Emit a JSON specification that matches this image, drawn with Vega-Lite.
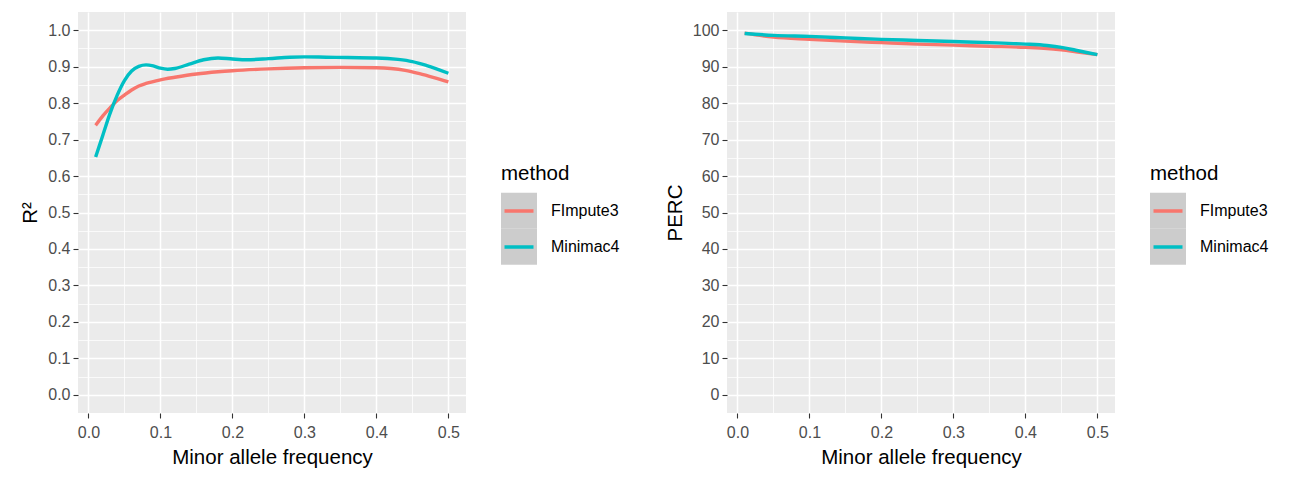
{
  "$schema": "https://vega.github.io/schema/vega-lite/v6.json",
  "padding": {"left": 20, "top": 12, "right": 5, "bottom": 5},
  "background": "white",
  "datasets": {
    "r2": [
      {"method": "FImpute3", "maf": 0.01, "value": 0.739},
      {"method": "FImpute3", "maf": 0.02, "value": 0.765},
      {"method": "FImpute3", "maf": 0.03, "value": 0.787},
      {"method": "FImpute3", "maf": 0.04, "value": 0.807},
      {"method": "FImpute3", "maf": 0.05, "value": 0.822},
      {"method": "FImpute3", "maf": 0.06, "value": 0.836},
      {"method": "FImpute3", "maf": 0.07, "value": 0.847},
      {"method": "FImpute3", "maf": 0.08, "value": 0.854},
      {"method": "FImpute3", "maf": 0.10, "value": 0.864},
      {"method": "FImpute3", "maf": 0.12, "value": 0.871},
      {"method": "FImpute3", "maf": 0.15, "value": 0.880},
      {"method": "FImpute3", "maf": 0.18, "value": 0.886},
      {"method": "FImpute3", "maf": 0.20, "value": 0.889},
      {"method": "FImpute3", "maf": 0.25, "value": 0.894},
      {"method": "FImpute3", "maf": 0.30, "value": 0.897},
      {"method": "FImpute3", "maf": 0.35, "value": 0.898},
      {"method": "FImpute3", "maf": 0.40, "value": 0.897},
      {"method": "FImpute3", "maf": 0.42, "value": 0.895},
      {"method": "FImpute3", "maf": 0.44, "value": 0.890},
      {"method": "FImpute3", "maf": 0.46, "value": 0.881},
      {"method": "FImpute3", "maf": 0.48, "value": 0.870},
      {"method": "FImpute3", "maf": 0.50, "value": 0.858},
      {"method": "Minimac4", "maf": 0.01, "value": 0.652},
      {"method": "Minimac4", "maf": 0.02, "value": 0.712},
      {"method": "Minimac4", "maf": 0.03, "value": 0.772},
      {"method": "Minimac4", "maf": 0.04, "value": 0.822},
      {"method": "Minimac4", "maf": 0.05, "value": 0.862},
      {"method": "Minimac4", "maf": 0.06, "value": 0.888},
      {"method": "Minimac4", "maf": 0.07, "value": 0.901},
      {"method": "Minimac4", "maf": 0.08, "value": 0.905},
      {"method": "Minimac4", "maf": 0.09, "value": 0.902},
      {"method": "Minimac4", "maf": 0.10, "value": 0.896},
      {"method": "Minimac4", "maf": 0.11, "value": 0.893},
      {"method": "Minimac4", "maf": 0.12, "value": 0.895},
      {"method": "Minimac4", "maf": 0.14, "value": 0.907},
      {"method": "Minimac4", "maf": 0.16, "value": 0.919},
      {"method": "Minimac4", "maf": 0.18, "value": 0.924},
      {"method": "Minimac4", "maf": 0.20, "value": 0.921},
      {"method": "Minimac4", "maf": 0.22, "value": 0.919},
      {"method": "Minimac4", "maf": 0.25, "value": 0.922},
      {"method": "Minimac4", "maf": 0.28, "value": 0.926},
      {"method": "Minimac4", "maf": 0.30, "value": 0.927},
      {"method": "Minimac4", "maf": 0.33, "value": 0.926},
      {"method": "Minimac4", "maf": 0.36, "value": 0.925},
      {"method": "Minimac4", "maf": 0.40, "value": 0.924},
      {"method": "Minimac4", "maf": 0.43, "value": 0.920},
      {"method": "Minimac4", "maf": 0.45, "value": 0.914},
      {"method": "Minimac4", "maf": 0.47, "value": 0.903},
      {"method": "Minimac4", "maf": 0.50, "value": 0.882}
    ],
    "perc": [
      {"method": "FImpute3", "maf": 0.01, "value": 99.2},
      {"method": "FImpute3", "maf": 0.05, "value": 98.1},
      {"method": "FImpute3", "maf": 0.10, "value": 97.5},
      {"method": "FImpute3", "maf": 0.15, "value": 97.0},
      {"method": "FImpute3", "maf": 0.20, "value": 96.6},
      {"method": "FImpute3", "maf": 0.25, "value": 96.2},
      {"method": "FImpute3", "maf": 0.30, "value": 95.9},
      {"method": "FImpute3", "maf": 0.35, "value": 95.6},
      {"method": "FImpute3", "maf": 0.40, "value": 95.3},
      {"method": "FImpute3", "maf": 0.43, "value": 95.0},
      {"method": "FImpute3", "maf": 0.45, "value": 94.6},
      {"method": "FImpute3", "maf": 0.47, "value": 94.1},
      {"method": "FImpute3", "maf": 0.50, "value": 93.3},
      {"method": "Minimac4", "maf": 0.01, "value": 99.1},
      {"method": "Minimac4", "maf": 0.05, "value": 98.6},
      {"method": "Minimac4", "maf": 0.10, "value": 98.3},
      {"method": "Minimac4", "maf": 0.15, "value": 97.9},
      {"method": "Minimac4", "maf": 0.20, "value": 97.5},
      {"method": "Minimac4", "maf": 0.25, "value": 97.2},
      {"method": "Minimac4", "maf": 0.30, "value": 96.9},
      {"method": "Minimac4", "maf": 0.35, "value": 96.6},
      {"method": "Minimac4", "maf": 0.40, "value": 96.2},
      {"method": "Minimac4", "maf": 0.43, "value": 95.8},
      {"method": "Minimac4", "maf": 0.45, "value": 95.3},
      {"method": "Minimac4", "maf": 0.47, "value": 94.5},
      {"method": "Minimac4", "maf": 0.50, "value": 93.3}
    ]
  },
  "config": {
    "font": "Liberation Sans",
    "view": {"fill": "#EBEBEB", "stroke": null},
    "axis": {
      "domain": false,
      "grid": true,
      "gridColor": "white",
      "tickColor": "#333333",
      "tickSize": 5,
      "tickWidth": 1.1,
      "labelColor": "#4D4D4D",
      "labelFontSize": 16,
      "labelFont": "Liberation Sans",
      "titleFont": "Liberation Sans",
      "titleFontSize": 20.5,
      "titleFontWeight": "normal",
      "titleColor": "black",
      "labelOverlap": false,
      "labelFlush": false
    },
    "axisX": {"labelPadding": 6, "titlePadding": 7},
    "axisY": {"labelPadding": 3, "titlePadding": 7},
    "legend": {"padding": 0, "rowPadding": 0, "labelFontSize": 16, "labelColor": "black", "titleFontSize": 20.5, "titleFontWeight": "normal", "titleColor": "black"}
  },
  "bounds": "flush",
  "spacing": 261,
  "resolve": {"scale": {"color": "independent", "fill": "independent"}},
  "hconcat": [
    {
      "width": 388,
      "height": 401,
      "data": {"name": "r2"},
      "encoding": {
        "x": {
          "field": "maf", "type": "quantitative",
          "scale": {"domain": [-0.0145, 0.5245], "nice": false, "zero": false},
          "axis": {
            "title": "Minor allele frequency",
            "values": [0, 0.05, 0.1, 0.15, 0.2, 0.25, 0.3, 0.35, 0.4, 0.45, 0.5],
            "labelExpr": "abs(datum.value*10 - round(datum.value*10)) < 0.001 ? format(datum.value, '.1f') : ''",
            "gridWidth": {"condition": {"test": "abs(datum.value*10 - round(datum.value*10)) < 0.001", "value": 1.5}, "value": 0.75},
            "tickOpacity": {"condition": {"test": "abs(datum.value*10 - round(datum.value*10)) < 0.001", "value": 1}, "value": 0}
          }
        },
        "y": {
          "field": "value", "type": "quantitative",
          "scale": {"domain": [-0.05, 1.05], "nice": false, "zero": false},
          "axis": {
            "title": "R²",
            "values": [0, 0.05, 0.1, 0.15, 0.2, 0.25, 0.3, 0.35, 0.4, 0.45, 0.5, 0.55, 0.6, 0.65, 0.7, 0.75, 0.8, 0.85, 0.9, 0.95, 1.0],
            "labelExpr": "abs(datum.value*10 - round(datum.value*10)) < 0.001 ? format(datum.value, '.1f') : ''",
            "gridWidth": {"condition": {"test": "abs(datum.value*10 - round(datum.value*10)) < 0.001", "value": 1.5}, "value": 0.75},
            "tickOpacity": {"condition": {"test": "abs(datum.value*10 - round(datum.value*10)) < 0.001", "value": 1}, "value": 0}
          }
        }
      },
      "layer": [
        {
          "mark": {"type": "square", "filled": true, "opacity": 0},
          "encoding": {
            "fill": {
              "field": "method", "type": "nominal",
              "scale": {"range": ["#CCCCCC", "#CCCCCC"]},
              "legend": {
                "orient": "none", "legendX": 423, "legendY": 180.7, "zindex": 0,
                "title": null, "symbolType": "square", "symbolSize": 1296, "symbolStrokeWidth": 0,
                "symbolOpacity": 1, "labelOpacity": 0, "labelExpr": "''",
                "encode": {"symbols": {"update": {"opacity": {"value": 1}}}}
              }
            }
          }
        },
        {
          "mark": {"type": "line", "strokeWidth": 3.4, "interpolate": "monotone"},
          "encoding": {
            "color": {
              "field": "method", "type": "nominal",
              "scale": {"domain": ["FImpute3", "Minimac4"], "range": ["#F8766D", "#00BFC4"]},
              "legend": {
                "orient": "none", "legendX": 423, "legendY": 151.5, "zindex": 1,
                "title": "method", "titlePadding": 9,
                "symbolType": "stroke", "symbolSize": 841, "symbolStrokeWidth": 3.7, "symbolOffset": 1.5,
                "clipHeight": 36, "labelOffset": 15.5
              }
            }
          }
        }
      ]
    },
    {
      "width": 388,
      "height": 401,
      "data": {"name": "perc"},
      "encoding": {
        "x": {
          "field": "maf", "type": "quantitative",
          "scale": {"domain": [-0.0145, 0.5245], "nice": false, "zero": false},
          "axis": {
            "title": "Minor allele frequency",
            "values": [0, 0.05, 0.1, 0.15, 0.2, 0.25, 0.3, 0.35, 0.4, 0.45, 0.5],
            "labelExpr": "abs(datum.value*10 - round(datum.value*10)) < 0.001 ? format(datum.value, '.1f') : ''",
            "gridWidth": {"condition": {"test": "abs(datum.value*10 - round(datum.value*10)) < 0.001", "value": 1.5}, "value": 0.75},
            "tickOpacity": {"condition": {"test": "abs(datum.value*10 - round(datum.value*10)) < 0.001", "value": 1}, "value": 0}
          }
        },
        "y": {
          "field": "value", "type": "quantitative",
          "scale": {"domain": [-5, 105], "nice": false, "zero": false},
          "axis": {
            "title": "PERC",
            "values": [0, 5, 10, 15, 20, 25, 30, 35, 40, 45, 50, 55, 60, 65, 70, 75, 80, 85, 90, 95, 100],
            "labelExpr": "datum.value % 10 == 0 ? format(datum.value, 'd') : ''",
            "gridWidth": {"condition": {"test": "datum.value % 10 == 0", "value": 1.5}, "value": 0.75},
            "tickOpacity": {"condition": {"test": "datum.value % 10 == 0", "value": 1}, "value": 0}
          }
        }
      },
      "layer": [
        {
          "mark": {"type": "square", "filled": true, "opacity": 0},
          "encoding": {
            "fill": {
              "field": "method", "type": "nominal",
              "scale": {"range": ["#CCCCCC", "#CCCCCC"]},
              "legend": {
                "orient": "none", "legendX": 423, "legendY": 180.7, "zindex": 0,
                "title": null, "symbolType": "square", "symbolSize": 1296, "symbolStrokeWidth": 0,
                "symbolOpacity": 1, "labelOpacity": 0, "labelExpr": "''",
                "encode": {"symbols": {"update": {"opacity": {"value": 1}}}}
              }
            }
          }
        },
        {
          "mark": {"type": "line", "strokeWidth": 3.4, "interpolate": "monotone"},
          "encoding": {
            "color": {
              "field": "method", "type": "nominal",
              "scale": {"domain": ["FImpute3", "Minimac4"], "range": ["#F8766D", "#00BFC4"]},
              "legend": {
                "orient": "none", "legendX": 423, "legendY": 151.5, "zindex": 1,
                "title": "method", "titlePadding": 9,
                "symbolType": "stroke", "symbolSize": 841, "symbolStrokeWidth": 3.7, "symbolOffset": 1.5,
                "clipHeight": 36, "labelOffset": 15.5
              }
            }
          }
        }
      ]
    }
  ]
}
